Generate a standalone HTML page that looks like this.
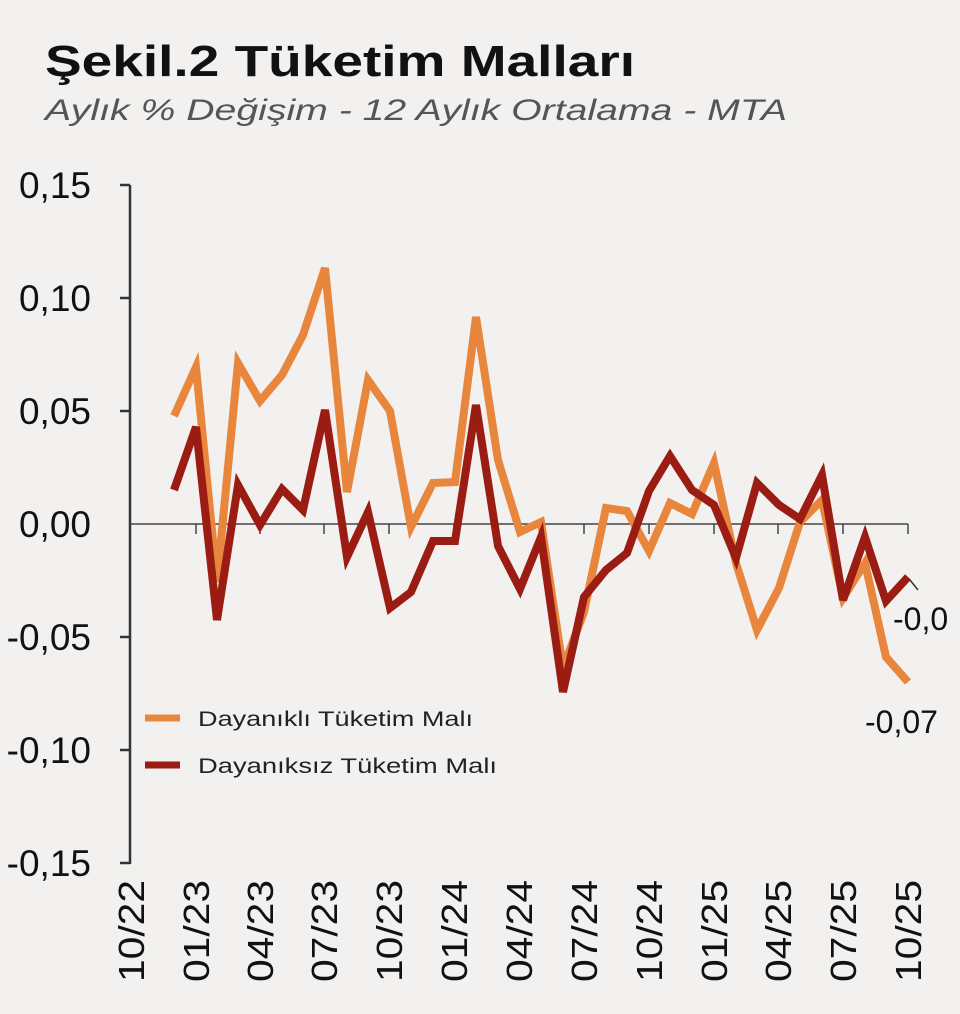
<!DOCTYPE html>
<html><head><meta charset="utf-8"><style>
html,body{margin:0;padding:0;background:#f2f1ef;}
svg{display:block;}
text{font-family:"Liberation Sans",sans-serif;}
</style></head><body>
<svg width="960" height="1014" viewBox="0 0 960 1014" xmlns="http://www.w3.org/2000/svg">
<rect width="960" height="1014" fill="#f2f1ef"/>
<text x="45" y="76" font-size="44" font-weight="bold" fill="#111" textLength="590" lengthAdjust="spacingAndGlyphs">Şekil.2 Tüketim Malları</text>
<text x="45" y="120" font-size="30" font-style="italic" fill="#555" textLength="742" lengthAdjust="spacingAndGlyphs">Aylık % Değişim - 12 Aylık Ortalama - MTA</text>
<g stroke="#333" stroke-width="2.5" fill="none">
<line x1="130" y1="185" x2="130" y2="864"/>
<line x1="120" y1="185" x2="130" y2="185"/>
<line x1="120" y1="298" x2="130" y2="298"/>
<line x1="120" y1="411" x2="130" y2="411"/>
<line x1="120" y1="637" x2="130" y2="637"/>
<line x1="120" y1="750" x2="130" y2="750"/>
<line x1="120" y1="863" x2="130" y2="863"/>
</g>
<g stroke="#444" stroke-width="1.5">
<line x1="130" y1="524" x2="908" y2="524"/>
<line x1="196" y1="524" x2="196" y2="534"/><line x1="260" y1="524" x2="260" y2="534"/>
<line x1="324" y1="524" x2="324" y2="534"/><line x1="389" y1="524" x2="389" y2="534"/>
<line x1="454" y1="524" x2="454" y2="534"/><line x1="519" y1="524" x2="519" y2="534"/>
<line x1="584" y1="524" x2="584" y2="534"/><line x1="649" y1="524" x2="649" y2="534"/>
<line x1="714" y1="524" x2="714" y2="534"/><line x1="778" y1="524" x2="778" y2="534"/>
<line x1="843" y1="524" x2="843" y2="534"/><line x1="908" y1="524" x2="908" y2="534"/>
</g>
<g font-size="37" fill="#111" text-anchor="end">
<text x="91" y="198">0,15</text>
<text x="91" y="311">0,10</text>
<text x="91" y="424">0,05</text>
<text x="91" y="537">0,00</text>
<text x="91" y="650">-0,05</text>
<text x="91" y="763">-0,10</text>
<text x="91" y="876">-0,15</text>
</g>
<g font-size="36" fill="#111" text-anchor="end">
<text transform="translate(144,880) rotate(-90)" textLength="102" lengthAdjust="spacingAndGlyphs">10/22</text>
<text transform="translate(209,880) rotate(-90)" textLength="102" lengthAdjust="spacingAndGlyphs">01/23</text>
<text transform="translate(273,880) rotate(-90)" textLength="102" lengthAdjust="spacingAndGlyphs">04/23</text>
<text transform="translate(337,880) rotate(-90)" textLength="102" lengthAdjust="spacingAndGlyphs">07/23</text>
<text transform="translate(402,880) rotate(-90)" textLength="102" lengthAdjust="spacingAndGlyphs">10/23</text>
<text transform="translate(467,880) rotate(-90)" textLength="102" lengthAdjust="spacingAndGlyphs">01/24</text>
<text transform="translate(532,880) rotate(-90)" textLength="102" lengthAdjust="spacingAndGlyphs">04/24</text>
<text transform="translate(597,880) rotate(-90)" textLength="102" lengthAdjust="spacingAndGlyphs">07/24</text>
<text transform="translate(662,880) rotate(-90)" textLength="102" lengthAdjust="spacingAndGlyphs">10/24</text>
<text transform="translate(727,880) rotate(-90)" textLength="102" lengthAdjust="spacingAndGlyphs">01/25</text>
<text transform="translate(791,880) rotate(-90)" textLength="102" lengthAdjust="spacingAndGlyphs">04/25</text>
<text transform="translate(856,880) rotate(-90)" textLength="102" lengthAdjust="spacingAndGlyphs">07/25</text>
<text transform="translate(921,880) rotate(-90)" textLength="102" lengthAdjust="spacingAndGlyphs">10/25</text>
</g>
<polyline fill="none" stroke="#e8863e" stroke-width="8" stroke-linejoin="miter" points="174,416 196,367 217,582 238,363 260,401 282,375 303,335 325,268 347,492 368,380 390,411 411,527 433,483 455,482 476,317 498,460 520,532 541,522 563,668 584,612 606,508 627,511 649,551 670,503 692,514 714,463 736,563 757,630 779,588 800,522 822,500 843,598 865,563 886,657 908,682"/>
<polyline fill="none" stroke="#9b1c12" stroke-width="8" stroke-linejoin="miter" points="174,490 196,427 217,620 238,485 260,525 282,489 303,510 325,410 347,557 368,512 390,608 411,592 433,541 455,541 476,405 498,546 520,589 541,537 563,692 584,597 606,570 627,553 649,491 670,456 692,490 714,505 736,558 757,483 779,505 800,519 822,475 843,600 865,537 886,601 908,577"/>
<line x1="910" y1="580" x2="918" y2="590" stroke="#333" stroke-width="1.5"/>
<text x="893" y="630" font-size="32" fill="#111">-0,0</text>
<text x="865" y="733" font-size="32" fill="#111">-0,07</text>
<line x1="145" y1="718" x2="180" y2="718" stroke="#e8863e" stroke-width="7"/>
<line x1="145" y1="765" x2="180" y2="765" stroke="#9b1c12" stroke-width="7"/>
<text x="198" y="726" font-size="21" fill="#222" textLength="275" lengthAdjust="spacingAndGlyphs">Dayanıklı Tüketim Malı</text>
<text x="198" y="773" font-size="21" fill="#222" textLength="299" lengthAdjust="spacingAndGlyphs">Dayanıksız Tüketim Malı</text>
</svg>
</body></html>
